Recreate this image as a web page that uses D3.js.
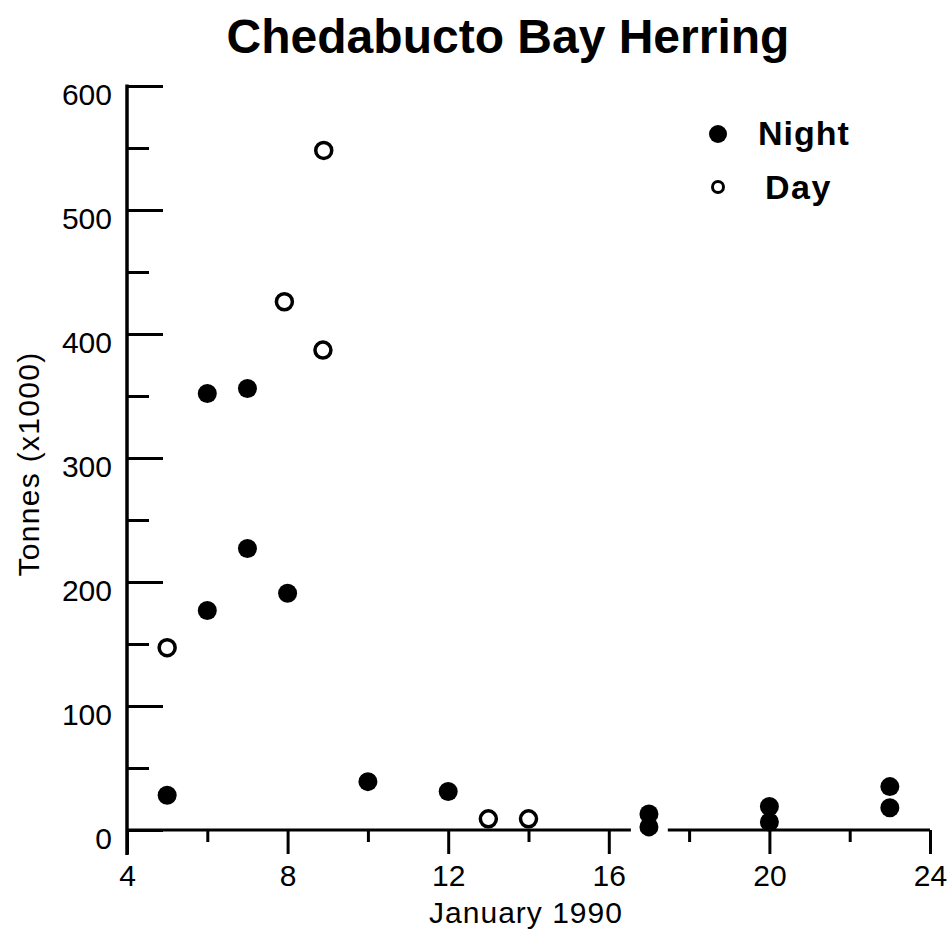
<!DOCTYPE html>
<html>
<head>
<meta charset="utf-8">
<script src="https://cdn.jsdelivr.net/npm/d3@7"></script>
<style>
  html, body { margin: 0; padding: 0; background: #fff; }
  svg { display: block; font-family: "Liberation Sans", Arial, Helvetica, sans-serif; }
</style>
</head>
<body>
<svg id="chart" width="951" height="936"></svg>
<script>
// ---- data ----
const title = "Chedabucto Bay Herring";
const xLabel = "January 1990";
const yLabel = "Tonnes (x1000)";
const xMajorTicks = [4, 8, 12, 16, 20, 24];
const xMinorTicks = [6, 10, 14, 18, 22];
const yMajorTicks = [0, 100, 200, 300, 400, 500, 600];
const yMinorTicks = [50, 150, 250, 350, 450, 550];
const nightDays   = [5, 6, 6, 7, 7, 8, 10, 12, 17, 17, 20, 20, 23, 23];
const nightTonnes = [28, 352, 177, 356, 227, 191, 39, 31, 13, 2.5, 19, 6.5, 35, 18];
const dayDays     = [5, 7.92, 8.9, 8.88, 13, 14];
const dayTonnes   = [147, 426, 548, 387, 9, 9];
const seriesNames = ["Night", "Day"];
const axisGapDays = [16.55, 17.47];

const svg = d3.select("#chart");
const x = d3.scaleLinear().domain([4, 24]).range([127, 930]);
const y = d3.scaleLinear().domain([0, 600]).range([830, 86]);

const ink = "#000";
const FONT = "Liberation Sans, Arial, sans-serif";

// title
svg.append("text")
  .attr("x", 508).attr("y", 53)
  .attr("text-anchor", "middle")
  .attr("font-size", 48).attr("font-weight", "bold")
  .attr("fill", ink)
  .text(title);

// y axis (ticks inward)
const gy = svg.append("g").attr("transform", `translate(${x(4)},0)`);
gy.call(d3.axisLeft(y).tickValues(yMajorTicks).tickSize(-36).tickPadding(15).tickFormat(d3.format("d")))
  .call(g => g.select(".domain").remove());
gy.selectAll(".tick text").attr("font-size", 30).attr("dy", "0.6em").attr("fill", ink).style("font-family", FONT);
gy.selectAll(".tick line").attr("stroke", ink).attr("stroke-width", 3);
const gyMinor = svg.append("g").attr("transform", `translate(${x(4)},0)`);
gyMinor.call(d3.axisLeft(y).tickValues(yMinorTicks).tickSize(-22).tickFormat(""))
  .call(g => g.select(".domain").remove());
gyMinor.selectAll(".tick line").attr("stroke", ink).attr("stroke-width", 3);
svg.append("line")
  .attr("x1", x(4)).attr("x2", x(4))
  .attr("y1", y(600) - 1.5).attr("y2", y(0) + 25)
  .attr("stroke", ink).attr("stroke-width", 3.5);

// x axis (ticks outward)
const gx = svg.append("g").attr("transform", `translate(0,${y(0)})`);
gx.call(d3.axisBottom(x).tickValues(xMajorTicks).tickSize(24).tickPadding(11).tickFormat(d3.format("d")))
  .call(g => g.select(".domain").remove());
gx.selectAll(".tick text").attr("font-size", 30).attr("fill", ink).style("font-family", FONT);
gx.selectAll(".tick line").attr("stroke", ink).attr("stroke-width", 3);
const gxMinor = svg.append("g").attr("transform", `translate(0,${y(0)})`);
gxMinor.call(d3.axisBottom(x).tickValues(xMinorTicks).tickSize(12).tickFormat(""))
  .call(g => g.select(".domain").remove());
gxMinor.selectAll(".tick line").attr("stroke", ink).attr("stroke-width", 3);
// x axis baseline, broken around day 17
const segs = [[4, axisGapDays[0]], [axisGapDays[1], 24]];
svg.append("g").selectAll("line").data(segs).join("line")
  .attr("x1", d => x(d[0])).attr("x2", d => x(d[1]))
  .attr("y1", y(0)).attr("y2", y(0))
  .attr("stroke", ink).attr("stroke-width", 3);

// axis labels
svg.append("text")
  .attr("transform", `translate(39,464) rotate(-90)`)
  .attr("text-anchor", "middle")
  .attr("font-size", 30).attr("letter-spacing", 1.3).attr("fill", ink)
  .text(yLabel);
svg.append("text")
  .attr("x", 526).attr("y", 923)
  .attr("text-anchor", "middle")
  .attr("font-size", 30).attr("letter-spacing", 1).attr("fill", ink)
  .text(xLabel);

// points
const night = nightDays.map((d, i) => ({ day: d, t: nightTonnes[i] }));
const day = dayDays.map((d, i) => ({ day: d, t: dayTonnes[i] }));
svg.append("g").selectAll("circle").data(day).join("circle")
  .attr("cx", d => x(d.day)).attr("cy", d => y(d.t))
  .attr("r", 8).attr("fill", "#fff").attr("stroke", ink).attr("stroke-width", 3.5);
svg.append("g").selectAll("circle").data(night).join("circle")
  .attr("cx", d => x(d.day)).attr("cy", d => y(d.t))
  .attr("r", 9.5).attr("fill", ink);

// legend
const lg = svg.append("g");
lg.append("circle").attr("cx", 718).attr("cy", 134).attr("r", 9).attr("fill", ink);
lg.append("circle").attr("cx", 718).attr("cy", 187).attr("r", 5.5).attr("fill", "#fff").attr("stroke", ink).attr("stroke-width", 3);
lg.append("text").attr("x", 758).attr("y", 145).attr("font-size", 34).attr("letter-spacing", 1).attr("font-weight", "bold").attr("fill", ink).text(seriesNames[0]);
lg.append("text").attr("x", 765).attr("y", 199).attr("font-size", 34).attr("letter-spacing", 1.5).attr("font-weight", "bold").attr("fill", ink).text(seriesNames[1]);
</script>
</body>
</html>
